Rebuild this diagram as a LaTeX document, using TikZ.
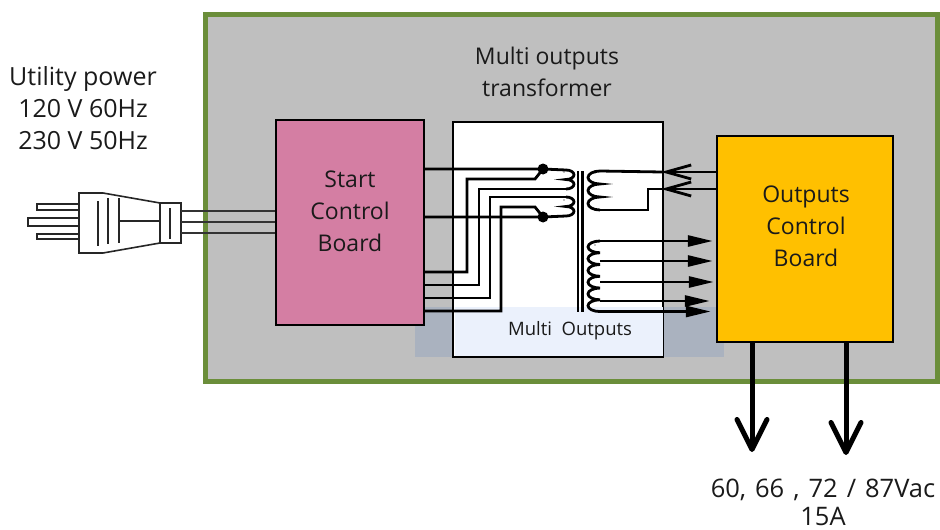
\documentclass[tikz,border=0pt]{standalone}
\usepackage{fontspec}
\setmainfont{Open Sans}
\usetikzlibrary{arrows.meta}
\definecolor{olivefr}{HTML}{6B8E3A}
\definecolor{graybg}{HTML}{BFBFBF}
\definecolor{pinkbd}{HTML}{D47EA3}
\definecolor{yellowbd}{HTML}{FFC000}
\definecolor{bandgray}{HTML}{AAB2BF}
\definecolor{bandblue}{HTML}{EBF1FC}
\definecolor{txt}{HTML}{1A1A1A}
\tikzset{
  boxnode/.style={draw=black,line width=2.5pt,inner sep=0pt},
  label text/.style={inner sep=0pt,align=center,text=txt,font=\fontsize{23}{32}\selectfont},
  wire/.style={line width=2.8pt,black,line join=miter},
  inarrow/.style={wire,-{Triangle[length=25pt,width=11pt]},shorten >=3pt},
  openarrow/.style={wire,-{Straight Barb[length=25pt,width=14pt,line width=2.8pt]},shorten >=-1pt},
  bigarrow/.style={line width=5pt,black,-{Straight Barb[length=30pt,width=30pt,line width=5pt,round]}},
  plugline/.style={line width=1.6pt,black!85},
  cord/.style={line width=1.5pt,black!80},
}
\begin{document}
\begin{tikzpicture}[x=1pt,y=-1pt]
\useasboundingbox (0,0) rectangle (940,530);
% enclosure
\node[draw=olivefr,line width=5pt,fill=graybg,minimum width=732pt,minimum height=367pt,inner sep=0pt] (case) at (571,198) {};
% translucent band behind the transformer
\fill[bandgray] (415,307) rectangle (724,357);
% boxes
\node[boxnode,fill=white,minimum width=210pt,minimum height=235pt] (xfmr) at (558,239.5) {};
\fill[bandblue] (454.5,307) rectangle (662.5,355.7);
\node[boxnode,fill=pinkbd,minimum width=148pt,minimum height=205pt] (start) at (350,222.5) {};
\node[boxnode,fill=yellowbd,minimum width=176pt,minimum height=206pt] (outb) at (805,239) {};
% labels
\node[label text] (slabel) at (350,211) {Start\\Control\\Board};
\node[label text] (olabel) at (806,226) {Outputs\\Control\\Board};
\node[label text] (tlabel) at (547,72) {Multi outputs\\transformer};
\node[label text,font=\fontsize{25}{32}\selectfont] (ulabel) at (83,108) {Utility power\\120 V 60Hz\\230 V 50Hz};
\node[inner sep=0pt,text=txt,font=\fontsize{18.5}{20}\selectfont] (mo) at (570,331) {Multi\ \ Outputs};
\node[label text,font=\fontsize{25.5}{28}\selectfont] (vlabel) at (823,502) {60,\hspace{9pt}66\hspace{9pt},\hspace{9pt}72\hspace{9pt}/\hspace{9pt}87Vac\\15A};
% plug
\coordinate (pa) at (181,211); \coordinate (pb) at (181,222); \coordinate (pc) at (181,233);
\draw[plugline] (37,204) rectangle (79,210);
\draw[plugline] (28,218) rectangle (79,226);
\draw[plugline] (37,234) rectangle (79,239);
\draw[plugline,fill=white] (79,193) -- (103,193) -- (160,203) -- (160,243) -- (103,253) -- (79,253) -- cycle;
\draw[plugline,fill=white] (160,203) rectangle (181,243);
\draw[plugline] (98,201) -- (98,246);
\draw[plugline] (108,198) -- (108,244);
\draw[plugline] (119,198) -- (119,243);
\draw[plugline] (119,221) -- (160,221);
\draw[plugline] (170,208) -- (170,239);
\draw[cord] (pa) -- (start.west |- pa);
\draw[cord] (pb) -- (start.west |- pb);
\draw[cord] (pc) -- (start.west |- pc);
% primary junctions
\fill (543,169) circle (5.5pt) coordinate (j1);
\fill (543,217) circle (5.5pt) coordinate (j2);
\coordinate (s1) at (424,169); \coordinate (s2) at (424,272); \coordinate (s3) at (424,285);
\coordinate (s4) at (424,298); \coordinate (s5) at (424,311); \coordinate (s6) at (424,217);
\coordinate (c1) at (566,170); \coordinate (c3) at (566,189); \coordinate (c4) at (566,197); \coordinate (c6) at (566,216);
\draw[wire] (s1) -- (j1) -- (c1);
\draw[wire] (s2) -- (467,272) -- (467,179) -- (535,179) -- (j1);
\draw[wire] (s3) -- (479,285) -- (479,189) -- (c3);
\draw[wire] (s4) -- (490,298) -- (490,197) -- (c4);
\draw[wire] (s5) -- (501,311) -- (501,207) -- (535,207) -- (j2);
\draw[wire] (s6) -- (j2) -- (c6);
% primary coils
\draw[wire] (c1) arc (90:-90:8pt and 4.75pt) arc (90:-90:8pt and 4.75pt);
\draw[wire] (c4) arc (90:-90:8pt and 4.75pt) arc (90:-90:8pt and 4.75pt);
% core
\draw[wire] (578,171) -- (578,312);
\draw[wire] (582.5,171) -- (582.5,312);
% secondary coils
\coordinate (t1) at (600,171); \coordinate (t2) at (600,210);
\draw[wire] (t1) arc (90:270:12pt and 6.5pt) arc (90:270:12pt and 6.5pt) arc (90:270:12pt and 6.5pt);
\coordinate (b1) at (600,241); \coordinate (b2) at (600,261); \coordinate (b3) at (600,282);
\coordinate (b4) at (600,301); \coordinate (b5) at (600,311.5);
\draw[wire] (b1) arc (90:270:12pt and 5.88pt) arc (90:270:12pt and 5.88pt) arc (90:270:12pt and 5.88pt)
  arc (90:270:12pt and 5.88pt) arc (90:270:12pt and 5.88pt) arc (90:270:12pt and 5.88pt);
% polarity dots
\fill (564,172) circle (0.7pt) (564,200) circle (0.7pt) (595,173) circle (0.7pt) (595,245) circle (0.7pt);
% feedback into the top secondary
\coordinate (k) at (662,172);
\coordinate (m) at (662,189);
\draw[wire] (t1) -- (k);
\draw[wire] (t2) -- (648,210) -- (648,189) -- (m);
\draw[openarrow] (outb.west |- k) -- (k);
\draw[openarrow] (outb.west |- m) -- (m);
% outputs
\draw[inarrow] (b1) -- (outb.west |- b1);
\draw[inarrow] (b2) -- (outb.west |- b2);
\draw[inarrow,shorten >=2pt] (b3) -- (outb.west |- b3);
\draw[inarrow,shorten >=6pt] (b4) -- (outb.west |- b4);
\draw[inarrow,shorten >=5pt] (b5) -- (outb.west |- b5);
% AC outputs
\coordinate (v1) at (752,452); \coordinate (v2) at (846,455);
\draw[bigarrow] (outb.south -| v1) -- (v1);
\draw[bigarrow] (outb.south -| v2) -- (v2);
\end{tikzpicture}
\end{document}
